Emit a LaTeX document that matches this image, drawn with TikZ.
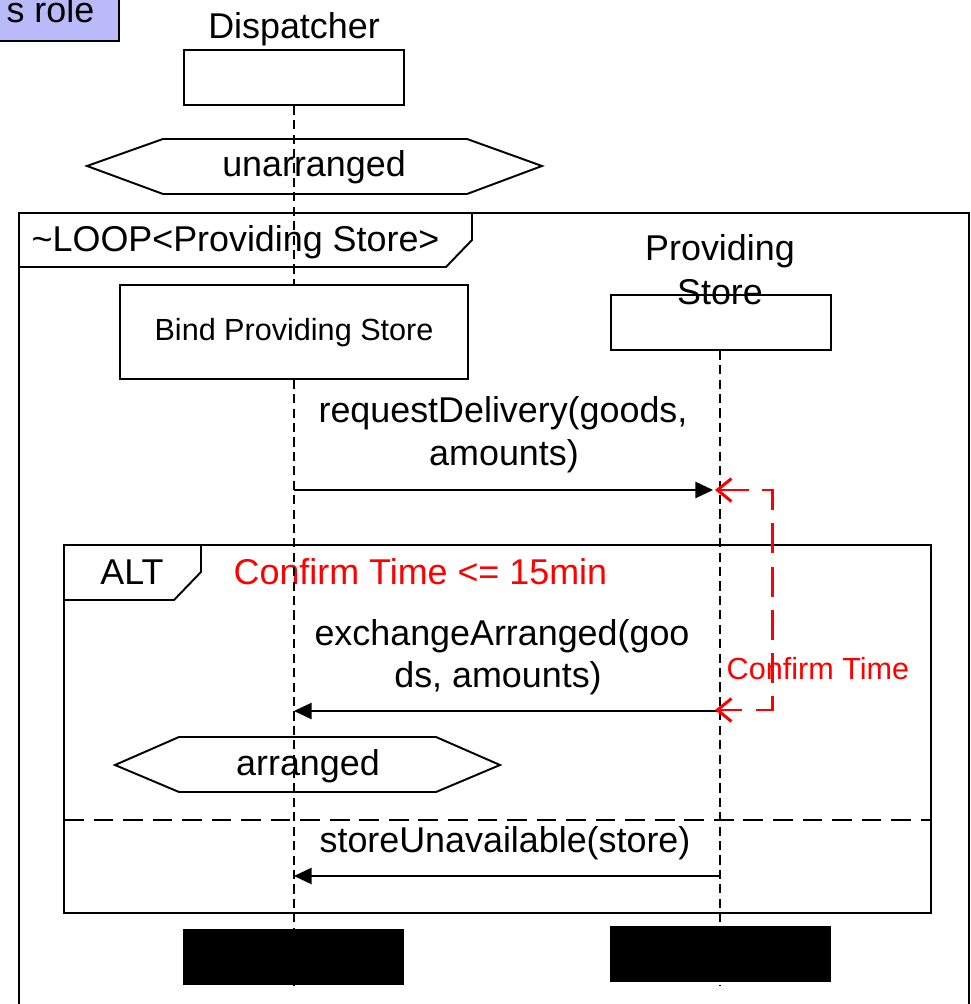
\documentclass[tikz,border=0pt]{standalone}
\usepackage{fontspec}
\setmainfont{Liberation Sans}
\usetikzlibrary{arrows.meta}
\definecolor{rolefill}{RGB}{186,186,248}
\begin{document}
\begin{tikzpicture}[x=0.01cm,y=-0.01cm,
  big/.style={font=\fontsize{10.2}{12}\selectfont, inner sep=0pt},
  small/.style={font=\fontsize{8.7}{10.5}\selectfont, inner sep=0pt},
  frameline/.style={line width=0.55pt},
  lifeline/.style={line width=0.4pt, dash pattern=on 2.6pt off 1.5pt},
  msg/.style={line width=0.5pt, -{Triangle[length=5pt,width=4.6pt]}},
  headbox/.style={draw, line width=0.45pt, fill=white, inner sep=0pt,
                  minimum width=2.2cm, minimum height=0.55cm},
  endbox/.style={fill=black, inner sep=0pt, minimum width=2.21cm, minimum height=0.56cm},
  timing/.style={red, line width=0.85pt, dash pattern=on 8.5pt off 3.8pt,
                 {Straight Barb[length=4pt,width=6.5pt]}-{Straight Barb[length=4pt,width=6.5pt]}},
  statebox/.style={line width=0.55pt}
]
\useasboundingbox (0,0) rectangle (971,1004);
\clip (0,0) rectangle (971,1004);

% role tag in the upper left corner
\draw[fill=rolefill, line width=0.6pt] (-60,-60) rectangle (119,41);
\node[big, anchor=base east] (role) at (95,23) {s role};

% loop frame
\draw[frameline] (19,1020) -- (19,213) -- (969,213) -- (969,1020);
\draw[frameline] (19,267) -- (446,267) -- (472,240) -- (472,213);
\node[big, anchor=base west] (looplbl) at (31,252) {\textasciitilde LOOP<Providing Store>};

% alt frame
\draw[frameline] (64,545) rectangle (931,913);
\draw[frameline] (64,600) -- (174,600) -- (201,572) -- (201,545);
\node[big, anchor=base] (altlbl) at (132,584) {ALT};
\node[big, anchor=base west, text=red] (guard) at (233,584) {Confirm Time <= 15min};
\draw[frameline, dash pattern=on 5.6pt off 2.8pt] (64,820) -- (931,820);

% lifeline heads
\node[big, anchor=base] (dispname) at (294,39) {Dispatcher};
\node[headbox] (disp) at (294,77.5) {};
\node[big, anchor=base] (psname1) at (720,261) {Providing};
\node[headbox] (ps) at (721,322.5) {};

% lifeline ends
\node[endbox] (dispend) at (293.5,957) {};
\node[endbox] (psend) at (720.5,954) {};
\coordinate (dispbot) at (294,986);
\coordinate (psbot) at (720,986);

% lifelines
\draw[lifeline] (disp.south -| dispbot) -- (dispbot);
\draw[lifeline] (ps.south -| psbot) -- (psbot);
\node[endbox] at (dispend) {};
\node[endbox] at (psend) {};
\node[big, anchor=base] (psname2) at (720,305) {Store};

% binding action
\node[draw, line width=0.45pt, fill=white, inner sep=0pt, minimum width=3.48cm,
      minimum height=0.94cm] (bind) at (294,332) {};
\node[small, anchor=base] (bindlbl) at (294,341) {Bind Providing Store};

% states
\draw[statebox] (87,166) -- (163,139) -- (467,139) -- (542,166) -- (467,194) -- (163,194) -- cycle;
\node[big, anchor=base] (unarr) at (314,177) {unarranged};
\draw[statebox] (115,765) -- (179,737) -- (436,737) -- (500,765) -- (436,792) -- (179,792) -- cycle;
\node[big, anchor=base] (arr) at (308,775) {arranged};

% message anchors on the lifelines
\coordinate (d1) at (294,490);
\coordinate (p1) at (713,490);
\coordinate (p2) at (720,711);
\coordinate (d2) at (294,711);
\coordinate (p3) at (720,876);
\coordinate (d3) at (294,876);

% messages
\draw[msg] (d1) -- (p1);
\node[big, anchor=base] (m1a) at (503,423) {requestDelivery(goods,};
\node[big, anchor=base] (m1b) at (504,466) {amounts)};
\draw[msg] (p2) -- (d2);
\node[big, anchor=base] (m2a) at (502,645) {exchangeArranged(goo};
\node[big, anchor=base] (m2b) at (498,687) {ds, amounts)};
\draw[msg] (p3) -- (d3);
\node[big, anchor=base] (m3) at (505,852) {storeUnavailable(store)};

% timing constraint
\coordinate (t1) at (715,490);
\coordinate (t2) at (715,710);
\coordinate (tc1) at (772,490);
\coordinate (tc2) at (772,710);
\draw[timing] (t1) -- (tc1) -- (tc2) -- (t2);
\node[small, anchor=base west, text=red] (ctime) at (726,679) {Confirm Time};
\end{tikzpicture}
\end{document}
